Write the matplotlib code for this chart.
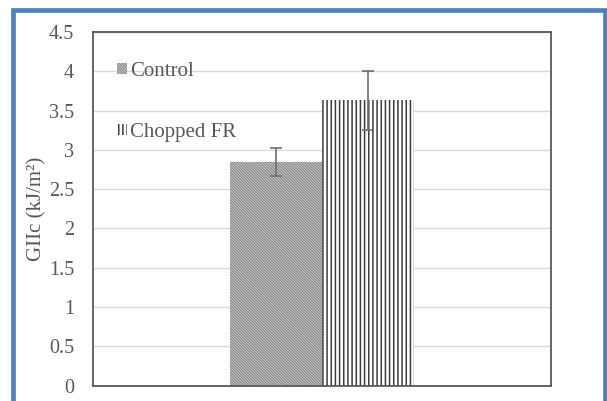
import matplotlib
matplotlib.use("Agg")
import matplotlib.pyplot as plt
from matplotlib.patches import Rectangle

# Mode II fracture toughness, mean and standard deviation
series = ["Control", "Chopped FR"]
values = [2.85, 3.63]
errors = [0.18, 0.38]
hatches = ["\\" * 12, "||||"]
yticks = [0, 0.5, 1, 1.5, 2, 2.5, 3, 3.5, 4, 4.5]

plt.rcParams["font.family"] = ["Liberation Serif", "DejaVu Serif"]
plt.rcParams["hatch.linewidth"] = 1.1

W, H = 607, 401
fig = plt.figure(figsize=(W / 100, H / 100), dpi=100)
ax = fig.add_axes([93 / W, (H - 385.6) / H, 458 / W, (385.6 - 32) / H])

bar_w = 0.2
offsets = [-0.1, 0.1]
hatch_cols = ["#8c8c8c", "#3c3c3c"]
for name, v, e, h, off, hc in zip(series, values, errors, hatches, offsets, hatch_cols):
    ax.bar(off, v, width=bar_w, color="white", edgecolor=hc, hatch=h,
           linewidth=0, label=name, zorder=2)
    ax.errorbar(off, v, yerr=e, fmt="none", ecolor="#6e6e6e", elinewidth=1.2,
                capsize=4, capthick=1.2, zorder=3)

ax.set_xlim(-0.5, 0.5)
ax.set_ylim(0, 4.5)
ax.set_yticks(yticks)
ax.set_yticklabels([f"{t:g}" for t in yticks])
ax.set_xticks([])
ax.tick_params(axis="y", length=0, pad=13.5, labelsize=14.5, labelcolor="#595959")
ax.yaxis.grid(True, color="#d9d9d9", linewidth=1.0, zorder=0)
ax.set_axisbelow(True)
for s in ax.spines.values():
    s.set_color("#595959")
    s.set_linewidth(1.3)

ax.set_ylabel("GIIc (kJ/m²)", fontsize=15, color="#595959", labelpad=2)

leg = ax.legend(loc="upper left", bbox_to_anchor=(0.035, 0.94), frameon=False,
                fontsize=15, handlelength=0.45, handleheight=0.45,
                handletextpad=0.15, labelspacing=2.05, borderaxespad=0)
for t in leg.get_texts():
    t.set_color("#595959")

# blue frame around the chart area
fig.patches.append(Rectangle((13 / W, -0.05), (604.5 - 13) / W, (H - 9.5) / H + 0.05,
                             transform=fig.transFigure, fill=False,
                             edgecolor="#4f81bd", linewidth=3.4, clip_on=False))

fig.savefig("out.png", dpi=100)
